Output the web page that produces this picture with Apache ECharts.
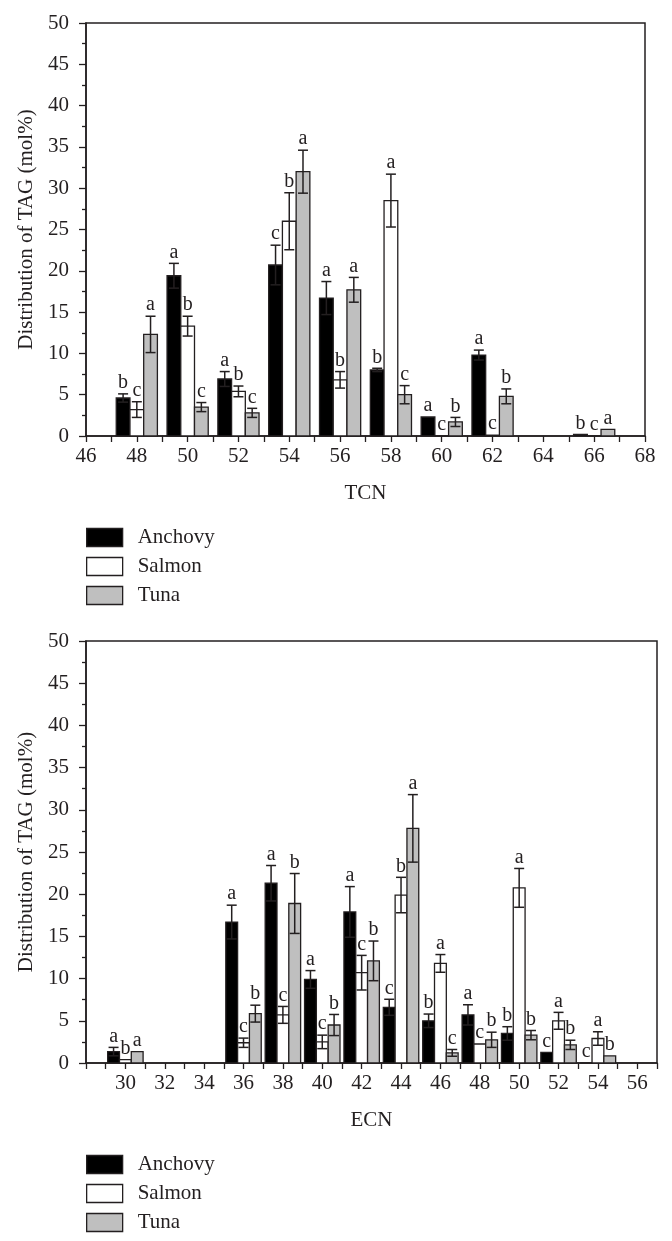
<!DOCTYPE html>
<html>
<head>
<meta charset="utf-8">
<script src="https://cdn.jsdelivr.net/npm/echarts@6/dist/echarts.min.js"></script>
<style>
html,body{margin:0;padding:0;background:#fff;}
#chart{width:672px;height:1241px;}
</style>
</head>
<body>
<div id="chart"></div>
<script>
// ---------- DATA ----------
const seriesNames = ['Anchovy', 'Salmon', 'Tuna'];

// Top panel: TCN
const tcnX = [48, 50, 52, 54, 56, 58, 60, 62, 66];
const tcnAnchovy = [4.6, 19.4, 6.9, 20.7, 16.7, 8.0, 2.3, 9.8, 0.2];
const tcnAnchovyErr = [0.5, 1.5, 0.9, 2.4, 2.0, 0.2, 0, 0.6, 0];
const tcnAnchovyLetters = ['b', 'a', 'a', 'c', 'a', 'b', 'a', 'a', 'b'];
const tcnSalmon = [3.2, 13.3, 5.4, 26.0, 6.8, 28.5, 0, 0.1, 0];
const tcnSalmonErr = [0.95, 1.2, 0.65, 3.45, 1.0, 3.2, 0, 0, 0];
const tcnSalmonLetters = ['c', 'b', 'b', 'b', 'b', 'a', 'c', 'c', 'c'];
const tcnTuna = [12.3, 3.5, 2.8, 32.0, 17.7, 5.0, 1.7, 4.8, 0.8];
const tcnTunaErr = [2.2, 0.55, 0.55, 2.6, 1.5, 1.1, 0.55, 0.9, 0];
const tcnTunaLetters = ['a', 'c', 'c', 'a', 'a', 'c', 'b', 'b', 'a'];

// Bottom panel: ECN
const ecnX = [30, 36, 38, 40, 42, 44, 46, 48, 50, 52, 54];
const ecnAnchovy = [1.35, 16.7, 21.3, 9.9, 17.9, 6.6, 5.0, 5.7, 3.5, 1.25, 0];
const ecnAnchovyErr = [0.5, 2.0, 2.1, 1.05, 3.0, 0.95, 0.8, 1.2, 0.8, 0, 0];
const ecnAnchovyLetters = ['a', 'a', 'a', 'a', 'a', 'c', 'b', 'a', 'b', 'c', 'c'];
const ecnSalmon = [0.4, 2.4, 5.7, 2.5, 10.7, 19.9, 11.8, 2.25, 20.75, 5.0, 2.9];
const ecnSalmonErr = [0, 0.55, 1.0, 0.8, 2.05, 2.1, 1.05, 0, 2.3, 1.0, 0.8];
const ecnSalmonLetters = ['b', 'c', 'c', 'c', 'c', 'b', 'a', 'c', 'a', 'a', 'a'];
const ecnTuna = [1.35, 5.85, 18.9, 4.5, 12.1, 27.8, 1.2, 2.75, 3.3, 2.15, 0.85];
const ecnTunaErr = [0, 1.0, 3.55, 1.25, 2.35, 4.0, 0.4, 0.9, 0.55, 0.55, 0];
const ecnTunaLetters = ['a', 'b', 'b', 'b', 'b', 'a', 'c', 'b', 'b', 'b', 'b'];

// ---------- STYLE ----------
const FONT = '"Liberation Serif", "Times New Roman", serif';
const INK = '#231f20';
const FILLS = ['#000000', '#ffffff', '#bfbfbf'];

function makeSeries(name, fill, xs, vals, errs, letters, offset, width, axisIdx) {
  return {
    type: 'custom',
    name: name,
    xAxisIndex: axisIdx,
    yAxisIndex: axisIdx,
    clip: false,
    itemStyle: { color: fill, borderColor: INK },
    data: xs.map((x, i) => [x, vals[i], errs[i]]),
    encode: { x: 0, y: 1 },
    renderItem: function (params, api) {
      const x = api.value(0), v = api.value(1), e = api.value(2);
      const letter = letters[params.dataIndex];
      const pL = api.coord([x + offset - width / 2, 0]);
      const pR = api.coord([x + offset + width / 2, v]);
      const pc = api.coord([x + offset, v]);
      const children = [{
        type: 'rect',
        shape: { x: pL[0], y: pR[1], width: pR[0] - pL[0], height: pL[1] - pR[1] },
        style: { fill: fill, stroke: INK, lineWidth: 1.3 }
      }];
      let topY = pc[1];
      if (e > 0) {
        const pT = api.coord([x + offset, v + e]);
        const pB = api.coord([x + offset, v - e]);
        const cx = pc[0], hw = 5;
        topY = pT[1];
        children.push({ type: 'line', shape: { x1: cx, y1: pT[1], x2: cx, y2: pB[1] }, style: { stroke: INK, lineWidth: 1.5 } });
        children.push({ type: 'line', shape: { x1: cx - hw, y1: pT[1], x2: cx + hw, y2: pT[1] }, style: { stroke: INK, lineWidth: 1.5 } });
        children.push({ type: 'line', shape: { x1: cx - hw, y1: pB[1], x2: cx + hw, y2: pB[1] }, style: { stroke: INK, lineWidth: 1.5 } });
      }
      children.push({
        type: 'text',
        style: {
          text: letter, x: pc[0], y: topY - 1,
          textAlign: 'center', textVerticalAlign: 'bottom',
          font: '20px ' + FONT, fill: INK
        }
      });
      return { type: 'group', children: children };
    }
  };
}

function xAxisCfg(idx, min, max, name, labelMin, labelMax) {
  return {
    type: 'value', gridIndex: idx, min: min, max: max, interval: 1,
    name: name, nameLocation: 'middle', nameGap: 47,
    nameTextStyle: { fontFamily: FONT, fontSize: 21, color: INK },
    axisLine: { show: true, onZero: false, lineStyle: { color: INK, width: 1.5 } },
    axisTick: { show: true, length: 6, lineStyle: { color: INK, width: 1.3 } },
    axisLabel: {
      fontFamily: FONT, fontSize: 21, color: INK, margin: 10,
      formatter: v => (v % 2 === 0 && v >= labelMin && v <= labelMax) ? String(v) : ''
    },
    splitLine: { show: false }
  };
}

function yAxisCfg(idx) {
  return {
    type: 'value', gridIndex: idx, min: 0, max: 50, interval: 5,
    name: 'Distribution of TAG (mol%)', nameLocation: 'middle', nameGap: 49,
    nameTextStyle: { fontFamily: FONT, fontSize: 21, color: INK },
    axisLine: { show: true, lineStyle: { color: INK, width: 1.5 } },
    axisTick: { show: true, length: 7, lineStyle: { color: INK, width: 1.3 } },
    minorTick: { show: true, splitNumber: 2, length: 4, lineStyle: { color: INK, width: 1.3 } },
    axisLabel: { fontFamily: FONT, fontSize: 21, color: INK, margin: 17 },
    splitLine: { show: false },
    minorSplitLine: { show: false }
  };
}

function legendCfg(top) {
  return {
    orient: 'vertical', left: 86, top: top, padding: 0,
    itemWidth: 36, itemHeight: 18, itemGap: 8,
    selectedMode: false,
    textStyle: { fontFamily: FONT, fontSize: 21, color: INK, padding: [0, 0, 0, 10] },
    data: seriesNames.map((n, i) => ({
      name: n, icon: 'rect',
      itemStyle: { color: FILLS[i], borderColor: INK, borderWidth: 1.3 }
    }))
  };
}

const TW = 0.54, TO = 0.54;   // top panel bar width / offset (axis units)
const BW = 0.6, BO = 0.6;     // bottom panel

const option = {
  backgroundColor: '#fff',
  animation: false,
  grid: [
    { left: 86, right: 27, top: 23, height: 413, show: true, borderColor: INK, borderWidth: 1.5, backgroundColor: 'transparent' },
    { left: 86, right: 15, top: 641, height: 422, show: true, borderColor: INK, borderWidth: 1.5, backgroundColor: 'transparent' }
  ],
  xAxis: [xAxisCfg(0, 46, 68, 'TCN', 46, 68), xAxisCfg(1, 28, 57, 'ECN', 30, 56)],
  yAxis: [yAxisCfg(0), yAxisCfg(1)],
  legend: [legendCfg(527), legendCfg(1154)],
  series: [
    makeSeries('Anchovy', FILLS[0], tcnX, tcnAnchovy, tcnAnchovyErr, tcnAnchovyLetters, -TO, TW, 0),
    makeSeries('Salmon', FILLS[1], tcnX, tcnSalmon, tcnSalmonErr, tcnSalmonLetters, 0, TW, 0),
    makeSeries('Tuna', FILLS[2], tcnX, tcnTuna, tcnTunaErr, tcnTunaLetters, TO, TW, 0),
    makeSeries('Anchovy', FILLS[0], ecnX, ecnAnchovy, ecnAnchovyErr, ecnAnchovyLetters, -BO, BW, 1),
    makeSeries('Salmon', FILLS[1], ecnX, ecnSalmon, ecnSalmonErr, ecnSalmonLetters, 0, BW, 1),
    makeSeries('Tuna', FILLS[2], ecnX, ecnTuna, ecnTunaErr, ecnTunaLetters, BO, BW, 1)
  ]
};

const chart = echarts.init(document.getElementById('chart'), null, { renderer: 'canvas' });
chart.setOption(option);
</script>
</body>
</html>
